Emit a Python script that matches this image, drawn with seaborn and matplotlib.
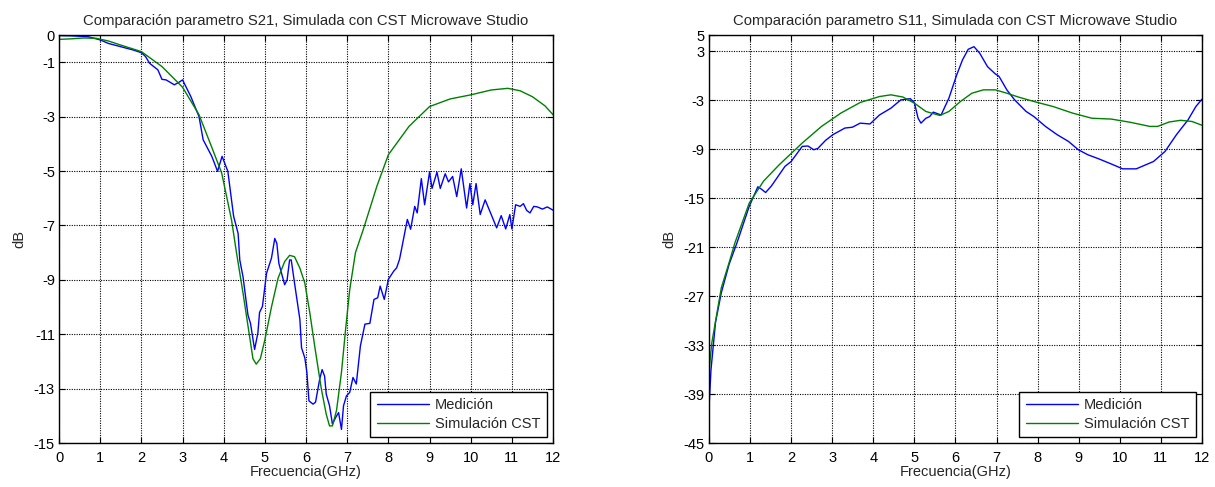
import numpy as np
import pandas as pd
import matplotlib
matplotlib.use("Agg")
import matplotlib.pyplot as plt
import seaborn as sns

# ---------------- data ----------------
# S21 measured (Medición)
s21_med_f = [0.0, 0.3, 0.7, 1.0, 1.2, 1.5, 1.8, 2.0, 2.1, 2.2, 2.4, 2.5, 2.6, 2.8, 2.9, 3.0,
             3.2, 3.4, 3.5, 3.71, 3.85, 3.96, 4.1, 4.24, 4.35, 4.39, 4.47, 4.55, 4.59, 4.65,
             4.75, 4.83, 4.87, 4.94, 5.04, 5.16, 5.24, 5.29, 5.34, 5.48, 5.54, 5.6, 5.64,
             5.72, 5.85, 5.89, 5.97, 6.02, 6.07, 6.17, 6.23, 6.33, 6.39, 6.45, 6.49, 6.57,
             6.64, 6.72, 6.79, 6.86, 6.91, 6.98, 7.06, 7.14, 7.22, 7.32, 7.43, 7.55, 7.65,
             7.74, 7.8, 7.9, 8.0, 8.13, 8.2, 8.27, 8.32, 8.46, 8.54, 8.64, 8.7, 8.8, 8.88,
             9.0, 9.06, 9.18, 9.26, 9.38, 9.46, 9.56, 9.66, 9.77, 9.9, 9.98, 10.05, 10.13,
             10.23, 10.35, 10.53, 10.63, 10.74, 10.85, 10.95, 11.0, 11.09, 11.2, 11.28,
             11.36, 11.44, 11.53, 11.62, 11.74, 11.86, 12.0]
s21_med_db = [-0.02, -0.03, -0.06, -0.18, -0.31, -0.43, -0.55, -0.65, -0.79, -1.04, -1.28,
              -1.63, -1.65, -1.83, -1.75, -1.65, -2.26, -3.0, -3.85, -4.46, -5.01, -4.46,
              -5.01, -6.66, -7.3, -8.27, -8.9, -9.85, -10.3, -10.6, -11.56, -10.95, -10.2,
              -9.98, -8.76, -8.2, -7.48, -7.66, -8.4, -9.18, -9.0, -8.27, -8.27, -9.12,
              -10.46, -11.5, -11.87, -12.4, -13.45, -13.57, -13.5, -12.66, -12.3, -12.54,
              -13.2, -13.63, -14.3, -14.06, -13.88, -14.5, -13.63, -13.27, -13.14, -12.59,
              -12.83, -11.43, -10.63, -10.6, -9.72, -9.66, -9.23, -9.72, -8.98, -8.68,
              -8.56, -8.25, -7.87, -6.78, -7.14, -6.3, -6.54, -5.28, -6.24, -5.04, -5.64,
              -5.04, -5.64, -5.1, -5.4, -5.2, -5.94, -4.92, -6.36, -5.46, -6.24, -5.46,
              -6.6, -6.06, -6.72, -7.09, -6.64, -7.13, -6.6, -7.13, -6.24, -6.3, -6.2,
              -6.45, -6.54, -6.3, -6.32, -6.4, -6.32, -6.44]

# S21 simulated (Simulación CST)
s21_sim_f = [0.0, 0.3, 0.6, 0.9, 1.2, 1.5, 2.0, 2.5, 3.0, 3.4, 3.7, 3.95, 4.19, 4.31,
             4.47, 4.59, 4.71, 4.79, 4.89, 5.0, 5.16, 5.32, 5.48, 5.6, 5.72, 5.85, 5.97,
             6.09, 6.21, 6.37, 6.49, 6.57, 6.64, 6.74, 6.86, 6.96, 7.06, 7.2, 7.39, 7.72,
             8.0, 8.5, 9.0, 9.5, 10.0, 10.5, 10.9, 11.2, 11.5, 11.8, 12.0]
s21_sim_db = [-0.16, -0.14, -0.11, -0.12, -0.22, -0.37, -0.61, -1.16, -1.92, -2.93, -4.09,
              -5.07, -6.8, -8.0, -9.5, -10.7, -11.9, -12.1, -11.9, -11.2, -10.0, -8.94,
              -8.33, -8.1, -8.15, -8.57, -9.12, -10.2, -11.44, -13.0, -13.94, -14.37,
              -14.37, -13.8, -12.4, -10.83, -9.37, -8.0, -7.15, -5.56, -4.4, -3.36, -2.63,
              -2.35, -2.2, -2.02, -1.96, -2.05, -2.27, -2.6, -2.93]

# S11 measured (Medición)
s11_med_f = [0.0, 0.05, 0.16, 0.3, 0.49, 0.68, 0.98, 1.19, 1.28, 1.38, 1.52, 1.85, 2.0,
             2.27, 2.41, 2.55, 2.65, 2.84, 3.02, 3.31, 3.49, 3.68, 3.92, 4.15, 4.43, 4.67,
             4.9, 5.0, 5.09, 5.16, 5.28, 5.37, 5.46, 5.65, 5.84, 6.03, 6.17, 6.31, 6.45,
             6.59, 6.78, 6.97, 7.06, 7.25, 7.44, 7.72, 7.91, 8.19, 8.47, 8.75, 8.99, 9.22,
             9.5, 9.79, 10.07, 10.4, 10.54, 10.82, 11.1, 11.38, 11.66, 11.85, 12.0]
s11_med_db = [-40.8, -36.0, -30.2, -26.6, -23.1, -20.5, -16.0, -13.6, -13.9, -14.3, -13.5,
              -11.1, -10.5, -8.65, -8.6, -9.06, -8.9, -7.9, -7.2, -6.4, -6.3, -5.8, -5.9,
              -4.8, -3.96, -2.95, -2.8, -3.3, -5.2, -5.8, -5.2, -5.0, -4.45, -4.8, -2.74,
              0.11, 1.94, 3.25, 3.57, 2.77, 1.12, 0.23, -0.07, -1.72, -2.95, -4.37, -5.0,
              -6.2, -7.2, -8.04, -9.06, -9.67, -10.2, -10.8, -11.4, -11.4, -11.1, -10.5,
              -9.27, -7.2, -5.4, -3.77, -2.86]

# S11 simulated (Simulación CST)
s11_sim_f = [0.0, 0.07, 0.3, 0.49, 0.63, 0.98, 1.33, 1.71, 2.27, 2.74, 3.21, 3.68, 3.97,
             4.15, 4.43, 4.72, 5.0, 5.28, 5.62, 5.84, 6.12, 6.4, 6.68, 6.97, 7.25, 7.53,
             7.91, 8.38, 8.85, 9.32, 9.79, 10.26, 10.73, 10.92, 11.2, 11.48, 11.76, 12.0]
s11_sim_db = [-36.3, -32.7, -26.0, -22.9, -20.5, -15.6, -12.9, -10.9, -8.24, -6.2, -4.57,
              -3.27, -2.82, -2.54, -2.33, -2.6, -3.35, -4.37, -4.86, -4.37, -3.15, -2.13,
              -1.72, -1.72, -2.13, -2.6, -3.15, -3.77, -4.57, -5.2, -5.3, -5.7, -6.2, -6.2,
              -5.66, -5.45, -5.6, -6.06]

series_labels = ["Medición", "Simulación CST"]
titles = ["Comparación parametro S21, Simulada con CST Microwave Studio",
          "Comparación parametro S11, Simulada con CST Microwave Studio"]
x_label = "Frecuencia(GHz)"
y_label = "dB"
x_ticks = list(range(0, 13))
s21_yticks = [0, -1, -3, -5, -7, -9, -11, -13, -15]
s11_yticks = [5, 3, -3, -9, -15, -21, -27, -33, -39, -45]

# ---------------- style ----------------
sns.set_style("ticks")
plt.rcParams['font.family'] = ['Liberation Sans', 'DejaVu Sans']
plt.rcParams['font.size'] = 10.5

BLUE = "#0000FF"
GREEN = "#008000"
FS = 10.5

fig = plt.figure(figsize=(12.15, 4.87), dpi=100)
ax1 = fig.add_axes([0.0486, 0.0903, 0.4066, 0.8378])
ax2 = fig.add_axes([0.5835, 0.0903, 0.4058, 0.8378])


def draw(ax, mf, md, sf, sd, yticks, ylim, title):
    dm = pd.DataFrame({"f": mf, "db": md})
    ds = pd.DataFrame({"f": sf, "db": sd})
    sns.lineplot(data=dm, x="f", y="db", ax=ax, color=BLUE, lw=1.0,
                 estimator=None, sort=False, label=series_labels[0])
    sns.lineplot(data=ds, x="f", y="db", ax=ax, color=GREEN, lw=1.0,
                 estimator=None, sort=False, label=series_labels[1])
    ax.set_xlim(0, 12)
    ax.set_ylim(*ylim)
    ax.set_xticks(x_ticks)
    ax.set_yticks(yticks)
    ax.set_xticklabels([str(t) for t in x_ticks])
    ax.set_yticklabels([str(t) for t in yticks])
    ax.grid(True, color="black", linestyle=(0, (1, 1.2)), linewidth=0.8)
    ax.tick_params(direction="in", top=True, right=True, length=4, width=0.8,
                   labelsize=FS, pad=3, colors="black")
    ax.tick_params(axis="x", pad=5.5)
    for sp in ax.spines.values():
        sp.set_visible(True)
        sp.set_color("black")
        sp.set_linewidth(1.0)
    ax.set_xlabel(x_label, fontsize=FS, labelpad=0)
    ax.set_ylabel(y_label, fontsize=FS, labelpad=5)
    ax.set_title(title, fontsize=10.7, pad=7)
    leg = ax.legend(loc="lower right", frameon=True, fancybox=False, fontsize=FS,
                    handlelength=3.6, borderaxespad=0.4, borderpad=0.45,
                    labelspacing=0.3, handletextpad=0.4, edgecolor="black")
    leg.get_frame().set_linewidth(1.0)
    leg.get_frame().set_alpha(1)


draw(ax1, s21_med_f, s21_med_db, s21_sim_f, s21_sim_db, s21_yticks, (-15, 0), titles[0])
draw(ax2, s11_med_f, s11_med_db, s11_sim_f, s11_sim_db, s11_yticks, (-45, 5), titles[1])

fig.savefig("out.png", dpi=100, facecolor="white")
